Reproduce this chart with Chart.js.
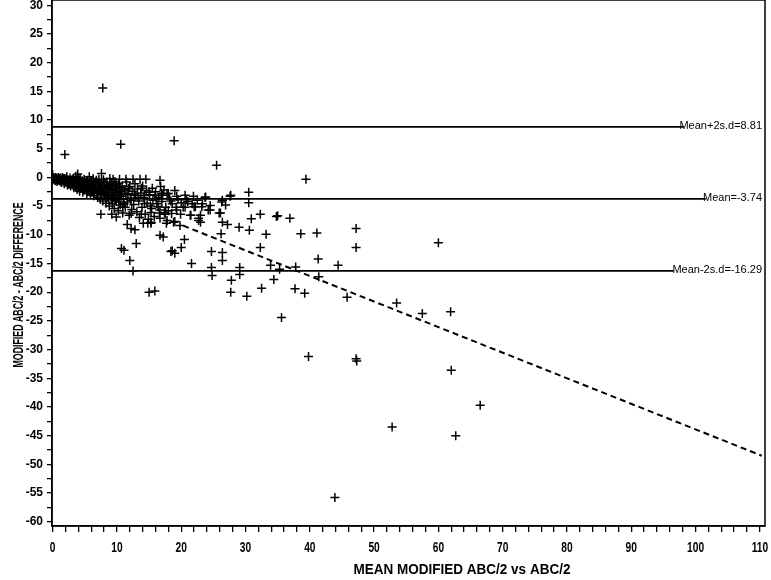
<!DOCTYPE html>
<html>
<head>
<meta charset="utf-8">
<script src="https://cdn.jsdelivr.net/npm/chart.js@4.4.1/dist/chart.umd.min.js"></script>
<style>
  html, body { margin: 0; padding: 0; background: #fff; }
  #wrap { width: 771px; height: 580px; }
</style>
</head>
<body>
<div id="wrap"><canvas id="baChart" width="771" height="580"></canvas></div>
<script>
// mean of the two scores (x) and their difference (y)
const points = [
  [0.0,0.5],[0.2,-0.1],[0.4,0.0],[0.5,-0.3],[0.6,-0.1],[0.8,-0.4],[0.9,0.0],[1.0,-0.2],[1.1,-0.6],[0.3,-0.5],
  [0.7,-0.7],[1.2,-0.1],[1.3,-0.4],[1.4,-0.9],[1.5,0.0],[1.6,-0.3],[1.7,-0.6],[1.8,-1.1],[1.9,-0.2],[2.0,-0.5],
  [2.1,-0.8],[2.2,0.1],[2.3,-1.3],[2.4,-0.4],[2.5,-0.7],[2.6,-1.0],[2.7,-0.1],[2.8,-1.5],[2.9,-0.5],[3.0,-0.8],
  [3.1,-1.2],[3.2,-0.2],[3.3,-1.8],[3.4,-0.6],[3.5,-1.0],[3.6,0.2],[3.7,-1.4],[3.8,-2.1],[3.9,-0.4],[4.0,-0.8],
  [4.1,-1.6],[4.2,-2.4],[4.3,-0.1],[4.4,-1.1],[4.5,-1.9],[4.6,-0.6],[4.7,-2.6],[4.8,-1.3],[4.9,-0.3],[5.0,-2.0],
  [5.1,-0.9],[5.2,-1.6],[5.3,-2.8],[5.4,-0.5],[5.5,-1.2],[5.6,-2.3],[5.7,0.1],[5.8,-1.8],[5.9,-3.0],[6.0,-0.7],
  [6.1,-1.4],[6.2,-2.5],[6.3,-0.2],[6.4,-3.2],[6.5,-1.0],[6.6,-2.0],[6.7,-1.6],[6.8,-0.5],[6.9,-2.8],[7.0,-3.5],
  [7.1,-1.2],[7.2,-0.3],[7.3,-2.2],[7.4,-3.8],[7.5,-1.7],[7.6,-0.9],[7.7,-2.6],[7.8,-4.1],[7.9,-0.4],[8.0,-1.4],
  [8.1,-3.1],[8.2,-2.0],[8.3,-4.5],[8.4,-0.8],[8.5,-3.4],[8.6,-1.8],[8.7,-2.6],[8.8,-5.0],[8.9,-0.2],[9.0,-1.2],
  [9.1,-3.9],[9.2,-2.3],[9.3,-4.6],[9.4,-1.6],[9.5,-3.0],[9.6,-5.4],[9.7,-0.7],[9.8,-2.7],[9.9,-4.2],[10.0,-1.9],
  [10.1,-3.5],[10.2,-5.8],[10.3,-1.0],[10.4,-2.4],[10.5,-4.8],[10.6,-3.0],[10.8,-1.5],[10.9,-6.2],[11.0,-3.8],[11.2,-2.1],
  [11.3,-5.2],[11.5,-0.8],[11.6,-4.3],[11.7,-2.8],[11.9,-6.6],[12.0,-1.6],[12.1,-3.6],[12.3,-5.6],[12.4,-2.4],[12.6,-4.7],
  [12.8,-1.1],[12.9,-3.1],[13.1,-6.0],[13.2,-2.0],[13.4,-4.1],[13.5,-7.0],[13.7,-2.7],[13.9,-5.2],[14.0,-1.5],[14.2,-3.5],
  [14.4,-6.4],[14.6,-2.3],[14.7,-4.5],[14.9,-7.3],[15.1,-3.0],[15.2,-5.0],[15.5,-1.9],[15.6,-4.0],[15.8,-6.8],[16.0,-2.5],
  [16.2,-4.6],[16.5,-3.5],[16.8,-1.6],[17.0,-4.2],[17.3,-2.2],[17.6,-5.2],[18.2,-3.7],[18.6,-4.6],[19.0,-2.3],[19.5,-3.9],
  [20.0,-4.4],[21.0,-4.2],[22.5,-4.0],
  [0.1,-0.3],[0.3,-0.2],[0.5,-0.6],[0.7,-0.2],[0.9,-0.5],[1.1,-0.3],[1.3,-0.8],[1.5,-0.5],[1.7,-0.2],[1.9,-0.9],
  [2.1,-0.3],[2.3,-0.6],[2.5,-1.2],[2.7,-0.8],[2.9,-1.1],[3.1,-0.5],[3.3,-0.9],[3.5,-1.6],[3.7,-0.7],[3.9,-1.3],
  [4.1,-0.4],[4.3,-1.9],[4.5,-0.9],[4.7,-1.5],[4.9,-2.2],[5.1,-1.3],[5.3,-0.6],[5.5,-2.5],[5.7,-1.0],[5.9,-1.8],
  [6.1,-2.2],[6.3,-1.2],[6.5,-2.7],[6.7,-0.8],[6.9,-1.9],[7.1,-2.5],[7.3,-1.0],[7.5,-3.0],[7.7,-1.4],[7.9,-2.2],
  [8.1,-0.9],[8.3,-2.8],[8.5,-1.5],[8.7,-3.6],[8.9,-2.1],[9.1,-1.0],[9.3,-3.2],[9.5,-2.0],[9.7,-4.0],[9.9,-1.3],
  [10.1,-2.6],[10.3,-4.3],[10.5,-1.8],[10.7,-3.3],[10.9,-2.2],[11.1,-4.6],[11.4,-3.0],[11.8,-1.9],[12.2,-4.0],[12.7,-2.9],
  [13.3,-3.5],[13.8,-1.9],[14.3,-4.6],[15.0,-2.6],[15.4,-5.4],[16.1,-3.8],[16.6,-6.2],[17.1,-3.1],[18.0,-5.8],[18.4,-4.1],
  [19.3,-3.3],[19.9,-6.4],[20.8,-3.9],[21.7,-4.6],
  [7.8,15.6],[18.9,6.4],[10.6,5.8],[1.9,4.0],[25.5,2.1],[39.4,-0.3],[16.7,-0.5],[3.9,0.6],[7.6,0.7],
  [9.4,-0.3],[10.4,-0.3],[11.4,-0.3],[12.5,-0.3],[13.6,-0.3],[14.5,-0.3],
  [30.5,-2.6],[30.5,-4.4],[27.6,-3.3],[26.4,-4.0],[26.9,-4.8],[23.7,-3.5],[21.9,-3.3],[20.6,-3.1],[17.8,-2.8],[16.9,-2.8],
  [15.9,-3.1],[24.5,-4.9],[23.2,-5.1],[24.5,-5.7],[26.1,-6.2],[22.0,-5.1],[20.6,-5.2],[19.3,-5.7],[18.5,-6.3],[17.4,-6.1],
  [16.7,-5.7],[15.3,-6.1],[21.4,-6.6],[22.7,-7.1],[16.7,-7.1],[17.8,-7.5],[18.8,-7.8],[19.8,-8.4],[15.3,-7.8],[26.4,-7.8],
  [27.2,-8.2],[30.9,-7.2],[32.3,-6.4],[34.8,-6.8],[36.9,-7.1],[29.0,-8.7],[30.6,-9.2],[33.2,-9.9],[38.6,-9.8],[41.1,-9.7],
  [47.2,-8.9],[47.2,-12.2],[26.2,-9.8],[16.7,-10.1],[17.2,-10.4],[20.5,-10.8],[20.0,-12.2],[18.4,-12.9],[19.0,-13.2],[24.7,-12.9],
  [26.4,-13.1],[26.4,-14.5],[32.3,-12.2],[21.6,-15.0],[24.7,-15.7],[24.8,-17.1],[29.1,-15.7],[29.1,-16.9],[27.8,-17.9],[27.7,-20.0],
  [30.2,-20.7],[32.5,-19.3],[34.4,-17.8],[33.9,-15.3],[35.3,-16.0],[37.8,-15.6],[41.3,-14.2],[41.4,-17.3],[44.4,-15.3],[37.7,-19.4],
  [39.2,-20.2],[35.6,-24.4],[45.8,-20.9],[53.5,-21.9],[57.5,-23.7],[61.9,-23.4],[60.0,-11.4],[39.8,-31.2],[47.2,-31.6],[47.3,-32.0],
  [62.0,-33.6],[15.0,-20.0],[15.9,-19.8],
  [10.7,-12.4],[11.1,-12.7],[13.0,-11.5],[12.0,-14.5],[12.5,-16.3],[18.6,-12.8],[11.6,-8.2],[12.2,-8.9],[12.8,-9.1],[14.1,-8.0],
  [14.8,-8.0],[15.3,-8.0],[17.5,-6.4],[17.7,-8.0],[19.0,-7.7],[7.5,-6.4],[9.2,-6.4],[9.9,-6.9],[10.9,-5.2],[12.2,-6.3],
  [13.8,-6.4],[16.4,-5.1],[19.2,-5.2],[20.3,-5.2],[22.2,-5.1],[23.0,-6.6],[21.5,-6.6],[23.0,-7.8],
  [23.8,-3.4],[27.7,-3.1],[26.3,-4.3],[18.0,-2.8],[14.3,-3.1],[23.3,-4.6],[24.2,-5.7],[25.9,-6.2],[35.0,-6.7],[22.7,-7.5],
  [43.9,-55.8],[52.8,-43.5],[62.7,-45.0],[66.5,-39.7]
];

// bias and limits of agreement
const limitValues = [8.81, -3.74, -16.29];
const limitLabels = ['Mean+2s.d=8.81', 'Mean=-3.74', 'Mean-2s.d=-16.29'];
const limitEnds = [98.1, 101.6, 96.6];

// fitted trend (dashed)
const trendX = [20.3, 110.3];
const trendY = [-8.4, -48.5];

const xTickLabels = [0, 10, 20, 30, 40, 50, 60, 70, 80, 90, 100, 110];
const yLabelStep = 5;
const xTitle = 'MEAN MODIFIED ABC/2 vs ABC/2';
const yTitle = 'MODIFIED ABC/2 - ABC/2 DIFFERENCE';

const limitDatasets = limitValues.map((v, i) => ({
  type: 'line',
  data: [{ x: 0, y: v }, { x: limitEnds[i], y: v }],
  borderColor: '#000',
  borderWidth: 1.6,
  pointRadius: 0,
  fill: false
}));

// narrow bold text: the original uses a condensed face
function narrowText(ctx, text, x, y, size, sx, rot) {
  ctx.save();
  ctx.translate(x, y);
  if (rot) ctx.rotate(rot);
  ctx.scale(sx, 1);
  ctx.font = 'bold ' + size + 'px "Liberation Sans", Arial, sans-serif';
  ctx.textAlign = 'center';
  ctx.textBaseline = 'alphabetic';
  ctx.fillText(text, 0, 0);
  ctx.restore();
}

const framePlugin = {
  id: 'frame',
  afterDatasetsDraw(chart) {
    const { ctx, chartArea: a, scales } = chart;
    ctx.save();
    ctx.strokeStyle = '#000';
    ctx.lineWidth = 1.5;
    ctx.strokeRect(a.left, a.top, a.right - a.left, a.bottom - a.top);
    ctx.fillStyle = '#000';
    ctx.font = '11px "Liberation Sans", Arial, sans-serif';
    ctx.textAlign = 'right';
    ctx.textBaseline = 'alphabetic';
    limitValues.forEach((v, i) => {
      const y = scales.y.getPixelForValue(v);
      ctx.fillText(limitLabels[i], a.right - 3, y + 2);
    });
    // x tick labels and both titles
    xTickLabels.forEach(v => {
      narrowText(ctx, String(v), scales.x.getPixelForValue(v), a.bottom + 26, 15, 0.68, 0);
    });
    narrowText(ctx, xTitle, 462, a.bottom + 48, 15, 0.9, 0);
    narrowText(ctx, yTitle, 23, 285, 14, 0.63, -Math.PI / 2);
    ctx.restore();
  }
};

const ctx = document.getElementById('baChart').getContext('2d');
new Chart(ctx, {
  type: 'scatter',
  data: {
    datasets: [
      {
        data: points.map(p => ({ x: p[0], y: p[1] })),
        pointStyle: 'cross',
        pointRadius: 4.5,
        borderColor: '#000',
        backgroundColor: '#000',
        borderWidth: 1.5
      },
      ...limitDatasets,
      {
        type: 'line',
        data: trendX.map((x, i) => ({ x: x, y: trendY[i] })),
        borderColor: '#000',
        borderWidth: 2,
        borderDash: [6, 4],
        pointRadius: 0,
        fill: false
      }
    ]
  },
  options: {
    responsive: false,
    animation: false,
    devicePixelRatio: 1,
    layout: { autoPadding: false, padding: { top: 0, right: 6, left: 0, bottom: 0 } },
    plugins: { legend: { display: false }, tooltip: { enabled: false } },
    scales: {
      x: {
        type: 'linear',
        min: -0.1,
        max: 110.8,
        afterBuildTicks: scale => {
          const t = [];
          for (let v = 0; v <= 110; v += 2) t.push({ value: v });
          scale.ticks = t;
        },
        afterFit: scale => {
          scale.height = 54;
          scale.paddingLeft = 0;
          scale.paddingRight = 0;
        },
        grid: { drawOnChartArea: false, color: '#000', lineWidth: 1.3, tickLength: 6 },
        border: { color: '#000', width: 1.5 },
        ticks: { autoSkip: false, maxRotation: 0, callback: () => '' }
      },
      y: {
        type: 'linear',
        min: -60.75,
        max: 30.92,
        afterBuildTicks: scale => {
          const t = [];
          for (let v = -60; v <= 30; v += 2.5) t.push({ value: v });
          scale.ticks = t;
        },
        afterFit: scale => {
          scale.width = 52;
          scale.paddingTop = 0;
          scale.paddingBottom = 0;
        },
        grid: { drawOnChartArea: false, color: '#000', lineWidth: 1.3, tickLength: 5 },
        border: { color: '#000', width: 1.5 },
        ticks: {
          autoSkip: false,
          padding: 4,
          color: '#000',
          font: { family: '"Liberation Sans", Arial, sans-serif', size: 12, weight: 'bold' },
          callback: v => (v % yLabelStep === 0 ? v : '')
        }
      }
    }
  },
  plugins: [framePlugin]
});
</script>
</body>
</html>
